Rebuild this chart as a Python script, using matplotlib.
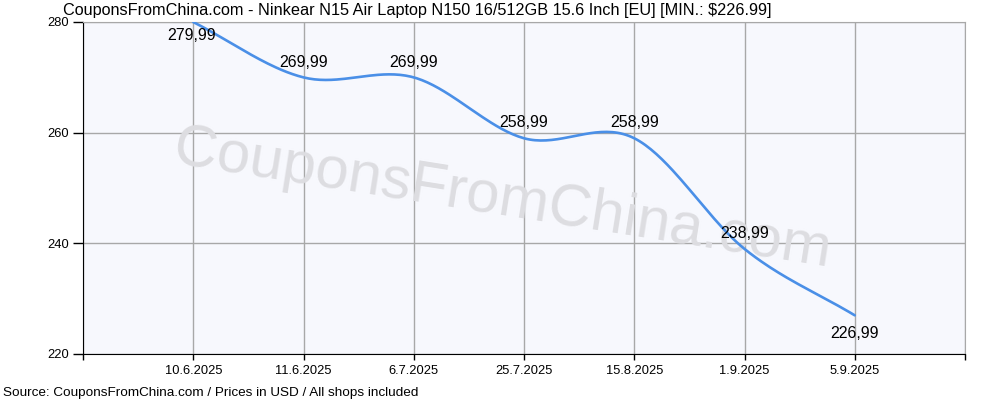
import numpy as np
import matplotlib
matplotlib.use("Agg")
import matplotlib.pyplot as plt

plt.rcParams['font.family'] = ['Liberation Sans', 'DejaVu Sans']

dates = ['10.6.2025', '11.6.2025', '6.7.2025', '25.7.2025', '15.8.2025', '1.9.2025', '5.9.2025']
prices = [279.99, 269.99, 269.99, 258.99, 258.99, 238.99, 226.99]
# label above (+1) or below (-1) the point
label_side = [-1, 1, 1, 1, 1, 1, -1]


def catmull_rom(y, steps=40):
    # smooth line through the points, like the original chart's spline
    y = np.asarray(y, dtype=float)
    n = len(y)
    m = np.zeros(n)
    m[1:-1] = (y[2:] - y[:-2]) / 2
    m[0] = y[1] - y[0]
    m[-1] = y[-1] - y[-2]
    xs, ys = [], []
    for i in range(n - 1):
        t = np.linspace(0, 1, steps, endpoint=(i == n - 2))
        h00 = 2 * t**3 - 3 * t**2 + 1
        h10 = t**3 - 2 * t**2 + t
        h01 = -2 * t**3 + 3 * t**2
        h11 = t**3 - t**2
        xs.append(i + t)
        ys.append(h00 * y[i] + h10 * m[i] + h01 * y[i + 1] + h11 * m[i + 1])
    return np.concatenate(xs), np.concatenate(ys)


fig = plt.figure(figsize=(10, 4), dpi=100)
ax = fig.add_axes([0.083, 0.115, 0.882, 0.83])
ax.set_facecolor('#F7F8FD')

x = np.arange(len(dates))
sx, sy = catmull_rom(prices)
ax.plot(sx, sy, color='#4A8FE7', lw=1.9, zorder=3, solid_capstyle='round')

for xi, p, s in zip(x, prices, label_side):
    off = (-1, -10) if xi == 0 else ((0, 11) if s > 0 else (0, -13))
    ax.annotate('{:.2f}'.format(p).replace('.', ','), (xi, p),
                xytext=off, textcoords='offset points',
                ha='center', va='center', fontsize=11.5, color='black', zorder=4)

ax.set_xlim(-1, 7)
ax.set_ylim(220, 280)
ax.set_xticks(list(range(-1, 8)))
ax.set_xticklabels([''] + dates + [''])
ax.set_yticks([220, 240, 260, 280])
ax.tick_params(axis='x', length=4, width=1, pad=4, labelsize=9.3)
ax.tick_params(axis='y', length=7, width=1, pad=3, labelsize=9.3)
ax.grid(True, color='#A8A8A8', lw=1)
ax.set_axisbelow(True)
for side in ['top', 'right']:
    ax.spines[side].set_color('#A8A8A8')
for side in ['left', 'bottom']:
    ax.spines[side].set_color('black')

ax.text(0.473, 0.419, 'CouponsFromChina.com', transform=ax.transAxes,
        fontsize=43, color='#DDDDE1', rotation=-9, rotation_mode='anchor',
        ha='center', va='baseline', zorder=1)

fig.text(0.063, 0.962, 'CouponsFromChina.com - Ninkear N15 Air Laptop N150 16/512GB 15.6 Inch [EU] [MIN.: $226.99]',
         fontsize=11.7, ha='left', va='baseline')
fig.text(0.003, 0.009, 'Source: CouponsFromChina.com / Prices in USD / All shops included',
         fontsize=9.7, ha='left', va='baseline')

plt.savefig('out.png', dpi=100)
